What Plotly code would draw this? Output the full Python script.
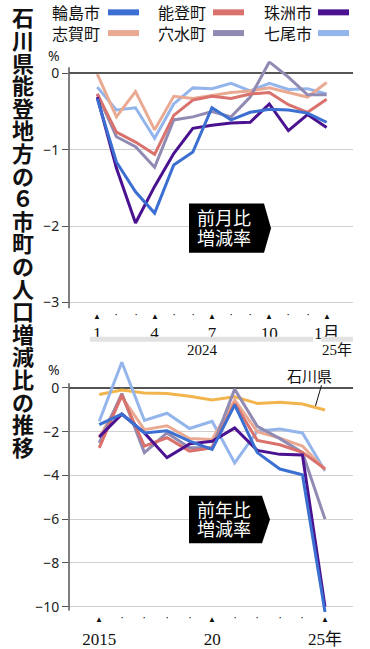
import plotly.graph_objects as go

W, H = 370, 649

# ---------------- data ----------------
month_x = list(range(13))  # Jan 2024 .. Jan 2025
month_ticks = [0, 3, 6, 9, 12]
month_ticktext = ["1", "4", "7", "10", "1月"]

wajima_m = [-0.33, -1.16, -1.55, -1.83, -1.20, -1.03, -0.45, -0.61, -0.51, -0.47, -0.48, -0.52, -0.64]
noto_m = [-0.27, -0.77, -0.90, -1.06, -0.55, -0.35, -0.30, -0.33, -0.27, -0.25, -0.41, -0.51, -0.34]
suzu_m = [-0.31, -1.24, -1.96, -1.48, -1.05, -0.72, -0.68, -0.65, -0.64, -0.40, -0.75, -0.54, -0.71]
shika_m = [-0.01, -0.57, -0.24, -0.74, -0.30, -0.33, -0.29, -0.25, -0.23, -0.19, -0.25, -0.31, -0.12]
anamizu_m = [-0.27, -0.83, -0.96, -1.23, -0.61, -0.57, -0.50, -0.57, -0.31, 0.15, -0.05, -0.28, -0.28]
nanao_m = [-0.18, -0.48, -0.45, -0.85, -0.40, -0.19, -0.20, -0.13, -0.23, -0.13, -0.21, -0.20, -0.27]

years = list(range(2015, 2026))
year_ticks = [2015, 2020, 2025]
year_ticktext = ["2015", "20", "25年"]

wajima_y = [-1.68, -1.20, -2.06, -1.96, -2.44, -2.81, -0.78, -2.96, -3.71, -3.97, -10.25]
noto_y = [-2.74, -0.33, -2.66, -2.28, -2.89, -2.74, -0.71, -2.40, -2.60, -2.95, -3.70]
suzu_y = [-2.24, -1.20, -2.06, -3.19, -2.56, -2.44, -1.83, -2.86, -3.04, -3.07, -10.00]
shika_y = [-2.28, -0.41, -1.91, -1.73, -2.32, -2.36, -0.56, -2.00, -2.30, -2.66, -3.75]
anamizu_y = [-2.51, -0.26, -2.96, -2.06, -2.74, -2.74, -0.06, -1.76, -2.32, -2.96, -6.00]
nanao_y = [-1.53, 1.17, -1.49, -1.16, -1.86, -1.53, -3.43, -1.98, -1.88, -2.06, -3.80]
ishikawa_y = [-0.30, -0.10, -0.23, -0.26, -0.38, -0.56, -0.41, -0.71, -0.66, -0.74, -1.01]

top_yticks = [0, -1, -2, -3]
top_yticktext = ["0", "−1", "−2", "−3"]
bot_yticks = [0, -2, -4, -6, -8, -10]
bot_yticktext = ["0", "−2", "−4", "−6", "−8", "−10"]

colors = {
    "輪島市": "#3b6fd1",
    "能登町": "#d9726c",
    "珠洲市": "#4a1290",
    "志賀町": "#eaa992",
    "穴水町": "#918ab2",
    "七尾市": "#93b5ec",
    "石川県": "#f2b54e",
}
title_text = "石川県能登地方の６市町の人口増減比の推移"

# ---------------- helpers ----------------
def X(px):
    return px / W


def Y(py):
    return 1 - py / H


fig = go.Figure()

monthly = {"七尾市": nanao_m, "志賀町": shika_m, "穴水町": anamizu_m,
           "能登町": noto_m, "珠洲市": suzu_m, "輪島市": wajima_m}
yearly = {"石川県": ishikawa_y, "七尾市": nanao_y, "志賀町": shika_y, "穴水町": anamizu_y,
          "能登町": noto_y, "珠洲市": suzu_y, "輪島市": wajima_y}

for n, v in monthly.items():
    fig.add_trace(go.Scatter(x=month_x, y=v, mode="lines", name=n, showlegend=False,
                             line=dict(color=colors[n], width=3), xaxis="x", yaxis="y"))
for n, v in yearly.items():
    fig.add_trace(go.Scatter(x=years, y=v, mode="lines", name=n, showlegend=False,
                             line=dict(color=colors[n], width=3), xaxis="x2", yaxis="y2"))

tickfont = dict(family="Noto Sans, Liberation Sans, sans-serif", size=14, color="#222")
serif = dict(family="Liberation Serif, Noto Sans CJK JP, serif", size=17, color="#111")

fig.update_layout(
    width=W, height=H,
    margin=dict(l=0, r=0, t=0, b=0),
    paper_bgcolor="white", plot_bgcolor="white",
    showlegend=False,
    xaxis=dict(domain=[X(69), X(353)], range=[-1.48, 13.38], anchor="y",
               tickvals=month_ticks, ticktext=month_ticktext, tickfont=serif,
               ticks="outside", ticklen=9, tickcolor="rgba(0,0,0,0)",
               showgrid=False, zeroline=False, showline=False),
    yaxis=dict(domain=[Y(312), Y(62)], range=[-3.075, 0.159], anchor="x",
               tickvals=top_yticks, ticktext=top_yticktext, tickfont=tickfont,
               ticks="outside", ticklen=6, tickcolor="#555",
               showgrid=True, gridcolor="#cfcfcf", gridwidth=1,
               zeroline=True, zerolinecolor="#555", zerolinewidth=1.5, showline=False),
    xaxis2=dict(domain=[X(69), X(353)], range=[2013.66, 2026.24], anchor="y2",
                tickvals=year_ticks, ticktext=year_ticktext, tickfont=serif,
                ticks="outside", ticklen=10, tickcolor="rgba(0,0,0,0)",
                showgrid=False, zeroline=False, showline=False),
    yaxis2=dict(domain=[Y(621), Y(360)], range=[-10.307, 1.476], anchor="x2",
                tickvals=bot_yticks, ticktext=bot_yticktext, tickfont=tickfont,
                ticks="outside", ticklen=6, tickcolor="#555",
                showgrid=True, gridcolor="#cfcfcf", gridwidth=1,
                zeroline=True, zerolinecolor="#555", zerolinewidth=1.5, showline=False),
)

shapes = []
annotations = []

# y axis lines
shapes.append(dict(type="line", xref="paper", yref="paper", x0=X(69), x1=X(69), y0=Y(68), y1=Y(312),
                   line=dict(color="#555", width=1.5)))
shapes.append(dict(type="line", xref="paper", yref="paper", x0=X(69), x1=X(69), y0=Y(388), y1=Y(618),
                   line=dict(color="#555", width=1.5)))

# % labels
for py in (56, 374):
    annotations.append(dict(text="%", x=X(54), y=Y(py), xref="paper", yref="paper", showarrow=False,
                            xanchor="center", yanchor="middle", font=tickfont))

# triangles and dots on axes
for m in month_x:
    if m in month_ticks:
        annotations.append(dict(text="▲", x=m, y=Y(319), xref="x", yref="paper", showarrow=False,
                                xanchor="center", yanchor="middle", font=dict(size=8, color="#111")))
    else:
        annotations.append(dict(text="•", x=m, y=Y(319), xref="x", yref="paper", showarrow=False,
                                xanchor="center", yanchor="middle", font=dict(size=6, color="#111")))
for yv in years:
    if yv in year_ticks:
        annotations.append(dict(text="▲", x=yv, y=Y(626), xref="x2", yref="paper", showarrow=False,
                                xanchor="center", yanchor="middle", font=dict(size=8, color="#111")))
    else:
        annotations.append(dict(text="•", x=yv, y=Y(626), xref="x2", yref="paper", showarrow=False,
                                xanchor="center", yanchor="middle", font=dict(size=6, color="#111")))

# year bars under month axis
shapes.append(dict(type="rect", xref="paper", yref="paper", x0=X(90), x1=X(313), y0=Y(346), y1=Y(341),
                   fillcolor="#e2e2e2", line=dict(width=0)))
shapes.append(dict(type="rect", xref="paper", yref="paper", x0=X(321), x1=X(353), y0=Y(346), y1=Y(341),
                   fillcolor="#e2e2e2", line=dict(width=0)))
annotations.append(dict(text="2024", x=X(202), y=Y(354), xref="paper", yref="paper", showarrow=False,
                        xanchor="center", yanchor="middle", font=dict(family=serif["family"], size=15, color="#111")))
annotations.append(dict(text="25年", x=X(337), y=Y(354), xref="paper", yref="paper", showarrow=False,
                        xanchor="center", yanchor="middle", font=dict(family=serif["family"], size=15, color="#111")))

# black label boxes
def label_box(top, bot, right, tip, lines):
    mid = (top + bot) / 2
    path = (f"M {X(189)},{Y(top)} L {X(right)},{Y(top)} L {X(tip)},{Y(mid)} "
            f"L {X(right)},{Y(bot)} L {X(189)},{Y(bot)} Z")
    shapes.append(dict(type="path", xref="paper", yref="paper", path=path,
                       fillcolor="black", line=dict(width=0)))
    for txt, py in lines:
        annotations.append(dict(text=txt, x=X(224), y=Y(py), xref="paper", yref="paper", showarrow=False,
                                xanchor="center", yanchor="middle",
                                font=dict(family="Noto Sans CJK JP", size=18, color="white")))

label_box(206, 256, 264, 271, [("前月比", 220), ("増減率", 240)])
label_box(502, 550, 262, 270, [("前年比", 515), ("増減率", 535)])

# 石川県 label with leader line
annotations.append(dict(text="石川県", x=X(309), y=Y(380), xref="paper", yref="paper", showarrow=False,
                        xanchor="center", yanchor="middle",
                        font=dict(family="Noto Sans CJK JP", size=15, color="#111")))
shapes.append(dict(type="line", xref="paper", yref="paper", x0=X(321.5), y0=Y(390), x1=X(315.5), y1=Y(411),
                   line=dict(color="#111", width=1)))

# legend (text then swatch)
legend_pos = [("輪島市", 50, 108, 12.5), ("能登町", 156, 213, 12.5), ("珠洲市", 262, 318, 12.5),
              ("志賀町", 50, 108, 33.5), ("穴水町", 156, 213, 33.5), ("七尾市", 262, 318, 33.5)]
for n, tx, sx, py in legend_pos:
    annotations.append(dict(text=n, x=X(tx), y=Y(py), xref="paper", yref="paper", showarrow=False,
                            xanchor="left", yanchor="middle",
                            font=dict(family="Noto Sans CJK JP", size=16, color="#111")))
    shapes.append(dict(type="line", xref="paper", yref="paper", x0=X(sx), x1=X(sx + 31), y0=Y(py), y1=Y(py),
                       line=dict(color=colors[n], width=6)))

# vertical title
n_chars = len(title_text)
for i, ch in enumerate(title_text):
    py = 16.5 + i * (451.5 - 16.5) / (n_chars - 1)
    annotations.append(dict(text=ch, x=X(23), y=Y(py), xref="paper", yref="paper", showarrow=False,
                            xanchor="center", yanchor="middle",
                            font=dict(family="Noto Sans CJK JP", size=22, color="#111", weight="bold")))

fig.update_layout(shapes=shapes, annotations=annotations)
fig.write_html("out.html", config={"displayModeBar": False},
               post_script="document.body.style.margin='0';document.body.style.overflow='hidden';")
